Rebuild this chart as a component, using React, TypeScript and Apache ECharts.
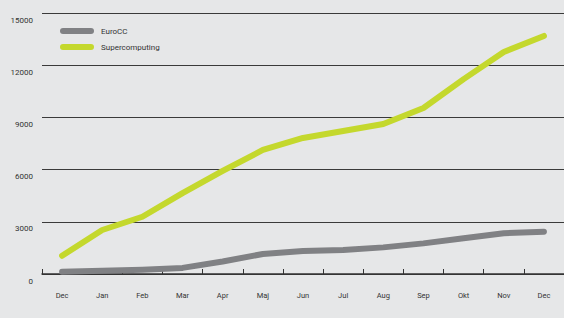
import React, { useEffect, useRef } from "react";
import * as echarts from "echarts";

const categories = ["Dec", "Jan", "Feb", "Mar", "Apr", "Maj", "Jun", "Jul", "Aug", "Sep", "Okt", "Nov", "Dec"];
const euroCC = [130, 180, 240, 350, 720, 1150, 1320, 1380, 1530, 1760, 2050, 2340, 2430];
const supercomputing = [1050, 2530, 3290, 4650, 5920, 7130, 7820, 8220, 8620, 9540, 11200, 12760, 13680];
const yTicks = { min: 0, max: 15000, interval: 3000 };

const pill = "path://M3,0 L31,0 A3,3 0 0 1 31,6 L3,6 A3,3 0 0 1 3,0 Z";
const FONT = "Roboto";

export default function App() {
  const ref = useRef<HTMLDivElement>(null);
  useEffect(() => {
    document.body.style.margin = "0";
    const chart = echarts.init(ref.current!, undefined, { renderer: "svg" });
    chart.setOption({
      animation: false,
      backgroundColor: "#e6e7e8",
      textStyle: { fontFamily: FONT },
      legend: {
        orient: "vertical",
        left: 55,
        top: 22,
        itemWidth: 34,
        itemHeight: 6,
        itemGap: 8,
        icon: pill,
        textStyle: { fontSize: 8, color: "#333", fontFamily: FONT, padding: [0, 0, 0, 2] },
        data: [
          { name: "EuroCC", itemStyle: { color: "#808184" } },
          { name: "Supercomputing", itemStyle: { color: "#c4d82d" } },
        ],
      },
      grid: { left: 42, top: 13, height: 261, width: 527, containLabel: false },
      xAxis: {
        type: "category",
        data: categories,
        boundaryGap: true,
        axisLine: { lineStyle: { color: "#333", width: 1.5 } },
        axisTick: { show: true, inside: true, length: 5, lineStyle: { color: "#333", width: 1 } },
        axisLabel: { color: "#333", fontSize: 7.5, margin: 17, fontFamily: FONT },
      },
      yAxis: {
        type: "value",
        min: yTicks.min,
        max: yTicks.max,
        interval: yTicks.interval,
        axisLine: { show: false },
        axisTick: { show: false },
        splitLine: { lineStyle: { color: "#3a3a3a", width: 1 } },
        axisLabel: {
          color: "#333",
          fontSize: 8,
          margin: 9,
          verticalAlign: "top",
          padding: [3, 0, 0, 0],
          fontFamily: FONT,
          formatter: (v: number) => String(v),
        },
      },
      series: [
        {
          name: "EuroCC",
          type: "line",
          data: euroCC,
          symbol: "none",
          lineStyle: { color: "#808184", width: 6, cap: "round", join: "round" },
          itemStyle: { color: "#808184" },
        },
        {
          name: "Supercomputing",
          type: "line",
          data: supercomputing,
          symbol: "none",
          lineStyle: { color: "#c4d82d", width: 6, cap: "round", join: "round" },
          itemStyle: { color: "#c4d82d" },
        },
      ],
    });
    return () => chart.dispose();
  }, []);
  return <div ref={ref} style={{ width: 564, height: 318 }} />;
}
